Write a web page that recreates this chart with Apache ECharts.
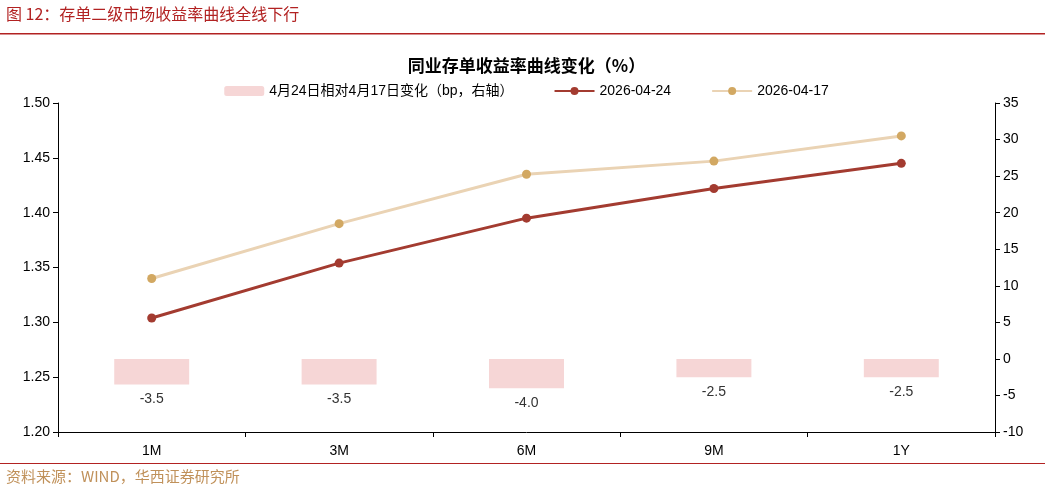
<!DOCTYPE html>
<html><head><meta charset="utf-8">
<script src="https://cdn.jsdelivr.net/npm/echarts@6/dist/echarts.min.js"></script>
<style>body{margin:0}#c{width:1053px;height:493px}</style></head>
<body><div id="c"></div>
<script>
// 期限
var categories = ["1M", "3M", "6M", "9M", "1Y"];
// 变化（bp）
var changeBp = [-3.5, -3.5, -4.0, -2.5, -2.5];
var yield0424 = [1.304, 1.354, 1.395, 1.422, 1.445];
var yield0417 = [1.340, 1.390, 1.435, 1.447, 1.470];

var chart = echarts.init(document.getElementById("c"));
var font = "Arial, 'Liberation Sans', 'Noto Sans CJK SC'";
chart.setOption({
	textStyle: { fontFamily: font },
	graphic: [
		{ type: "text", left: 6, top: 6, style: { text: "图 12：存单二级市场收益率曲线全线下行", fill: "#b22222", font: "16px 'Noto Sans CJK SC'" } },
		{ type: "rect", shape: { x: 0, y: 33, width: 1045, height: 1.5 }, style: { fill: "#b22222" } },
		{ type: "rect", shape: { x: 0, y: 463, width: 1045, height: 1 }, style: { fill: "#b22222" } },
		{ type: "text", left: 6, top: 469, style: { text: "资料来源：WIND，华西证券研究所", fill: "#c0915a", font: "15px 'Noto Sans CJK SC'" } }
	],
	title: {
		text: "同业存单收益率曲线变化（%）", left: "center", top: 52,
		textStyle: { fontSize: 17, fontWeight: "bold", color: "#000", fontFamily: "'Noto Sans CJK SC'" }
	},
	legend: {
		top: 79, itemGap: 40, itemWidth: 40, itemHeight: 10,
		textStyle: { fontSize: 14, color: "#000" },
		data: ["4月24日相对4月17日变化（bp，右轴）", "2026-04-24", "2026-04-17"]
	},
	grid: { left: 58, right: 58, top: 103, bottom: 61 },
	xAxis: {
		type: "category", data: categories,
		axisLine: { onZero: false, lineStyle: { color: "#000" } },
		axisTick: { show: true, lineStyle: { color: "#000" } },
		axisLabel: { color: "#000", fontSize: 14, margin: 12 }
	},
	yAxis: [
		{
			type: "value", min: 1.2, max: 1.5, interval: 0.05,
			splitLine: { show: false },
			axisLine: { show: true, lineStyle: { color: "#000" } },
			axisTick: { show: true },
			axisLabel: { color: "#000", fontSize: 14, formatter: function (v) { return v.toFixed(2); } }
		},
		{
			type: "value", min: -10, max: 35, interval: 5,
			splitLine: { show: false },
			axisLine: { show: true, lineStyle: { color: "#000" } },
			axisTick: { show: true },
			axisLabel: { color: "#000", fontSize: 14 }
		}
	],
	series: [
		{
			name: "4月24日相对4月17日变化（bp，右轴）", type: "bar", yAxisIndex: 1,
			data: changeBp, barWidth: "40%",
			itemStyle: { color: "#f6d6d6" },
			label: { show: true, position: "bottom", distance: 8, color: "#333", fontSize: 14, formatter: function (p) { return p.value.toFixed(1); } }
		},
		{
			name: "2026-04-24", type: "line", data: yield0424,
			symbol: "circle", symbolSize: 9,
			lineStyle: { color: "#a33b30", width: 3 },
			itemStyle: { color: "#a33b30" }
		},
		{
			name: "2026-04-17", type: "line", data: yield0417,
			symbol: "circle", symbolSize: 9,
			lineStyle: { color: "#ead3b4", width: 3 },
			itemStyle: { color: "#d2a862" }
		}
	]
});
</script></body></html>
